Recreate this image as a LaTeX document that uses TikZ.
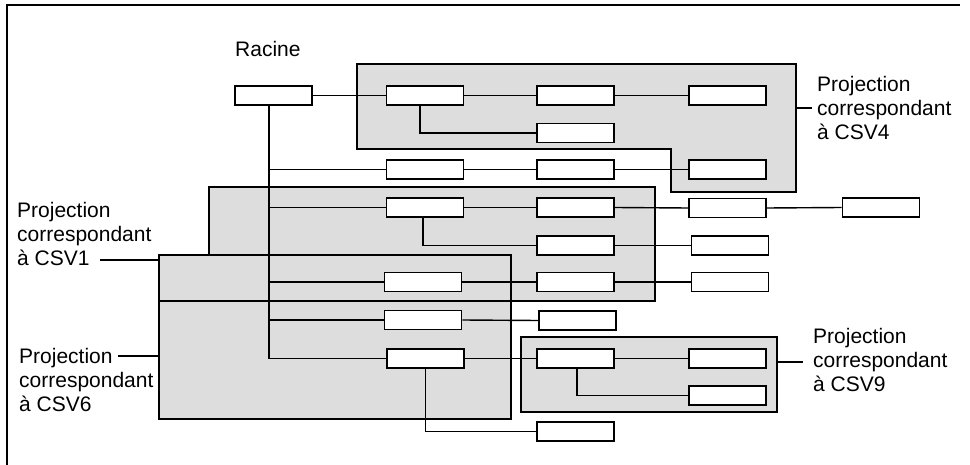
\documentclass[tikz,border=0pt]{standalone}
\usepackage{fontspec}
\setmainfont{Liberation Sans}
\definecolor{zonegray}{HTML}{DDDDDD}
\begin{document}
\begin{tikzpicture}[x=1pt,y=-1pt,
  every node/.style={font=\fontsize{21}{24}\selectfont},
  leaf/.style={draw, fill=white, line width=1.6pt, minimum width=77pt, minimum height=19pt, inner sep=0pt},
  link/.style={line width=1.4pt},
  zone/.style={fill=zonegray},
  zoneline/.style={draw, line width=1.5pt, line join=miter},
  lbl/.style={align=left, anchor=north west, inner sep=0pt}]
\useasboundingbox (0,0) rectangle (970,465);

% outer frame (open at the bottom and on the right)
\draw[line width=1.5pt] (7,470) -- (7,5) -- (960,5);

% projection zones: fills first, outlines on top
\path[zone] (357,64) -- (796,64) -- (796,192) -- (671,192) -- (671,149) -- (357,149) -- cycle;
\path[zone] (209,187) -- (655,187) -- (655,301) -- (159,301) -- (159,255) -- (209,255) -- cycle;
\path[zone] (159,255) rectangle (511,419);
\path[zone] (521,337) rectangle (777,412);
\draw[zoneline] (357,64) -- (796,64) -- (796,192) -- (671,192) -- (671,149) -- (357,149) -- cycle;
\draw[zoneline] (209,187) -- (655,187) -- (655,301) -- (159,301) -- (159,255) -- (209,255) -- cycle;
\draw[zoneline] (159,255) rectangle (511,419);
\draw[zoneline] (521,337) rectangle (777,412);

% tree nodes
\node[leaf] (root) at (273.5,95.5) {};
\node[leaf] (a1) at (425,95.5) {};
\node[leaf] (b1) at (575.5,95.5) {};
\node[leaf] (c1) at (727.5,95.5) {};
\node[leaf] (b2) at (575.5,133) {};
\node[leaf] (a3) at (425,169.5) {};
\node[leaf] (b3) at (575.5,169.5) {};
\node[leaf] (c3) at (727.5,169.5) {};
\node[leaf] (a4) at (425,207.5) {};
\node[leaf] (b4) at (575.5,207.5) {};
\node[leaf] (c4) at (727.5,208) {};
\node[leaf] (d4) at (881,207.5) {};
\node[leaf] (b5) at (575.5,245.5) {};
\node[leaf] (c5) at (730,245.5) {};
\node[leaf] (a6) at (423,282) {};
\node[leaf] (b6) at (575.5,282) {};
\node[leaf] (c6) at (730,282) {};
\node[leaf] (a7) at (423,320) {};
\node[leaf] (b7) at (577.5,320.5) {};
\node[leaf] (a8) at (425.5,358.5) {};
\node[leaf] (b8) at (575.5,358.5) {};
\node[leaf] (c8) at (727.5,358.5) {};
\node[leaf] (c9) at (727.5,395.5) {};
\node[leaf] (b10) at (575.5,431.5) {};

% trunk from the root and its branches
\coordinate (trunk) at ([xshift=-4.5pt]root.south);
\draw[link] (trunk) |- (a3.west);
\draw[link] (trunk) |- (a4.west);
\draw[link] (trunk) |- (a6.west);
\draw[link] (trunk) |- (a7.west);
\draw[link] (trunk) |- (a8.west);

% horizontal links
\draw[link] (root.east) -- (a1.west);
\draw[link] (a1.east) -- (b1.west);
\draw[link] (b1.east) -- (c1.west);
\draw[link] (a3.east) -- (b3.west);
\draw[link] (b3.east) -- (c3.west);
\draw[link] (a4.east) -- (b4.west);
\draw[link] (b4.east) -- (c4.west);
\draw[link] (c4.east) -- (d4.west);
\draw[link] (b5.east) -- (c5.west);
\draw[link] (a6.east) -- (b6.west);
\draw[link] (b6.east) -- (c6.west);
\draw[link] (a7.east) -- (b7.west);
\draw[link] (a8.east) -- (b8.west);
\draw[link] (b8.east) -- (c8.west);

% elbow links hanging below a node
\draw[link] ([xshift=-5pt]a1.south) |- (b2.west);
\draw[link] ([xshift=-2pt]a4.south) |- (b5.west);
\draw[link] (a8.south) |- (b10.west);
\draw[link] ([xshift=1.5pt]b8.south) |- (c9.west);

% labels
\node[anchor=base west, inner sep=0pt] (racine) at (235,57) {Racine};
\node[lbl] (l4) at (817,76) {Projection\\correspondant\\à CSV4};
\node[lbl] (l1) at (17,202) {Projection\\correspondant\\à CSV1};
\node[lbl] (l6) at (19,348) {Projection\\correspondant\\à CSV6};
\node[lbl] (l9) at (813,328) {Projection\\correspondant\\à CSV9};

% label pointers
\coordinate (p4a) at (796,108);  \coordinate (p4b) at (812,108);
\coordinate (p1a) at (100,260);  \coordinate (p1b) at (159,260);
\coordinate (p6a) at (118,356);  \coordinate (p6b) at (159,356);
\coordinate (p9a) at (777,362);  \coordinate (p9b) at (803,362);
\draw[link] (p4a) -- (p4b);
\draw[link] (p1a) -- (p1b);
\draw[link] (p6a) -- (p6b);
\draw[link] (p9a) -- (p9b);
\end{tikzpicture}
\end{document}
